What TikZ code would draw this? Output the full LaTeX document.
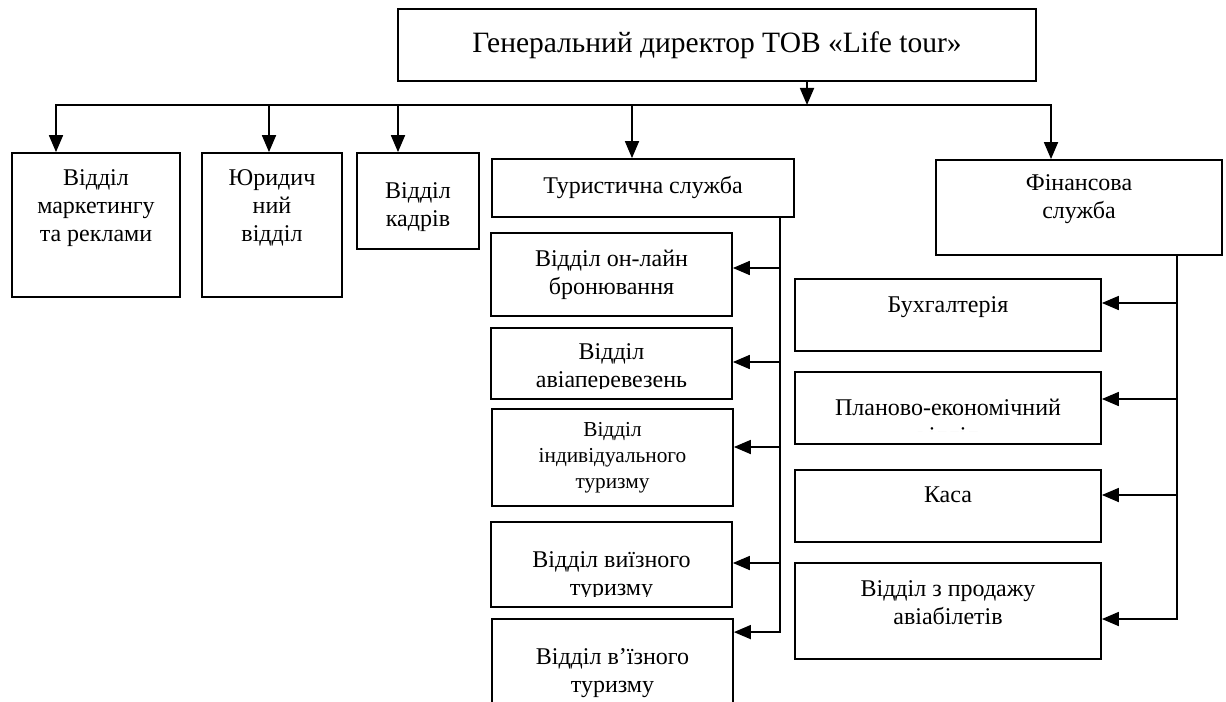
\documentclass[tikz,border=0pt]{standalone}
\usepackage{fontspec}
\setmainfont{Liberation Serif}
\usetikzlibrary{arrows.meta}
\tikzstyle{unit}=[draw, rectangle, line width=1.8bp, inner sep=0pt, align=center]
\tikzstyle{txt}=[inner sep=0pt, align=center]
\tikzstyle{link}=[line width=1.8bp]

\begin{document}
\begin{tikzpicture}[x=1bp, y=-1bp, >={Triangle[length=17bp,width=14bp]},
    every node/.style={font=\fontsize{24bp}{28bp}\selectfont}]
    \useasboundingbox (0,0) rectangle (1226,702);
    \clip (0,0) rectangle (1226,702);

    % Director
    \node[unit, minimum width=638bp, minimum height=72bp, font=\fontsize{29.5bp}{33bp}\selectfont] (title) at (717,45) {Генеральний директор ТОВ «Life tour»};

    % First level
    \node[unit, minimum width=168bp, minimum height=144bp] (mk) at (96,225) {};
    \node[txt] (mk-t) at (96,208) {Відділ\\маркетингу\\та реклами};
    \node[unit, minimum width=140bp, minimum height=144bp] (law) at (272,225) {};
    \node[txt] (law-t) at (272,208) {Юридич\\ний\\відділ};
    \node[unit, minimum width=122bp, minimum height=96bp] (hr) at (418,201) {};
    \node[txt] (hr-t) at (418,207) {Відділ\\кадрів};
    \node[unit, minimum width=302bp, minimum height=58bp] (tour) at (643,188) {Туристична служба};
    \node[unit, minimum width=286bp, minimum height=95bp] (fin) at (1079,207.5) {};
    \node[txt] (fin-t) at (1079,199) {Фінансова\\служба};

    % Tourism service departments
    \node[unit, minimum width=241bp, minimum height=83bp] (online) at (611.5,274.5) {Відділ он-лайн\\бронювання};
    \node[unit, minimum width=241bp, minimum height=71bp] (avia) at (611.5,363.5) {};
    \begin{scope}
      \clip ([yshift=11bp]avia.south west) rectangle (avia.north east);
      \node[txt] (avia-t) at (611.5,368) {Відділ\\авіаперевезень};
    \end{scope}
    \node[unit, minimum width=241bp, minimum height=97bp, font=\fontsize{21.3bp}{26bp}\selectfont] (indiv) at (612.5,457.5) {Відділ\\індивідуального\\туризму};
    \node[unit, minimum width=241bp, minimum height=85bp] (vyizn) at (611.5,564.5) {};
    \begin{scope}
      \clip ([yshift=11bp]vyizn.south west) rectangle (vyizn.north east);
      \node[txt] (vyizn-t) at (611.5,576) {Відділ виїзного\\туризму};
    \end{scope}
    \node[unit, minimum width=241bp, minimum height=96bp] (vizn) at (612.5,667) {};
    \node[txt] (vizn-t) at (612.5,673) {Відділ в’їзного\\туризму};

    % Financial service departments
    \node[unit, minimum width=306bp, minimum height=72bp] (buh) at (948,315) {};
    \node[txt] (buh-t) at (948,307) {Бухгалтерія};
    \node[unit, minimum width=306bp, minimum height=72bp] (plan) at (948,408) {};
    \begin{scope}
      \clip ([yshift=13bp]plan.south west) rectangle (plan.north east);
      \node[txt] (plan-t) at (948,424) {Планово-економічний\\відділ};
    \end{scope}
    \node[unit, minimum width=306bp, minimum height=72bp] (kasa) at (948,506) {};
    \node[txt] (kasa-t) at (948,495) {Каса};
    \node[unit, minimum width=306bp, minimum height=96bp] (sale) at (948,611) {};
    \node[txt] (sale-t) at (948,603) {Відділ з продажу\\авіабілетів};

    % Bus under the director
    \coordinate (bus) at (807,105);
    \coordinate (mk-in) at ([xshift=-40bp]mk.north);
    \coordinate (law-in) at ([xshift=-3bp]law.north);
    \coordinate (hr-in) at ([xshift=-20bp]hr.north);
    \coordinate (tour-in) at ([xshift=-11bp]tour.north);
    \coordinate (fin-in) at ([xshift=-28bp]fin.north);

    \path[link, ->] (title.south -| bus) edge (bus);
    \draw[link, <->] (mk-in) -- (mk-in |- bus) -- (fin-in |- bus) -- (fin-in);
    \draw[link, ->] (law-in |- bus) -- (law-in);
    \draw[link, ->] (hr-in |- bus) -- (hr-in);
    \draw[link, ->] (tour-in |- bus) -- (tour-in);

    % Tourism spine
    \coordinate (ts) at ([xshift=-15bp]tour.south east);
    \coordinate (online-in) at ([yshift=6.5bp]online.east);
    \coordinate (avia-in) at ([yshift=1.5bp]avia.east);
    \coordinate (indiv-in) at ([yshift=10.5bp]indiv.east);
    \coordinate (vyizn-in) at ([yshift=1.5bp]vyizn.east);
    \coordinate (vizn-in) at ([yshift=-14bp]vizn.north east);

    \draw[link, ->] (ts) -- (ts |- vizn-in) -- (vizn-in);
    \draw[link, ->] (ts |- online-in) -- (online-in);
    \draw[link, ->] (ts |- avia-in) -- (avia-in);
    \draw[link, ->] (ts |- indiv-in) -- (indiv-in);
    \draw[link, ->] (ts |- vyizn-in) -- (vyizn-in);

    % Finance spine
    \coordinate (fs) at ([xshift=-46bp]fin.south east);
    \coordinate (buh-in) at ([yshift=12bp]buh.east);
    \coordinate (plan-in) at ([yshift=9bp]plan.east);
    \coordinate (kasa-in) at ([yshift=11bp]kasa.east);
    \coordinate (sale-in) at ([yshift=-8bp]sale.east);

    \draw[link, ->] (fs) -- (fs |- sale-in) -- (sale-in);
    \draw[link, ->] (fs |- buh-in) -- (buh-in);
    \draw[link, ->] (fs |- plan-in) -- (plan-in);
    \draw[link, ->] (fs |- kasa-in) -- (kasa-in);

  \end{tikzpicture}
\end{document}
